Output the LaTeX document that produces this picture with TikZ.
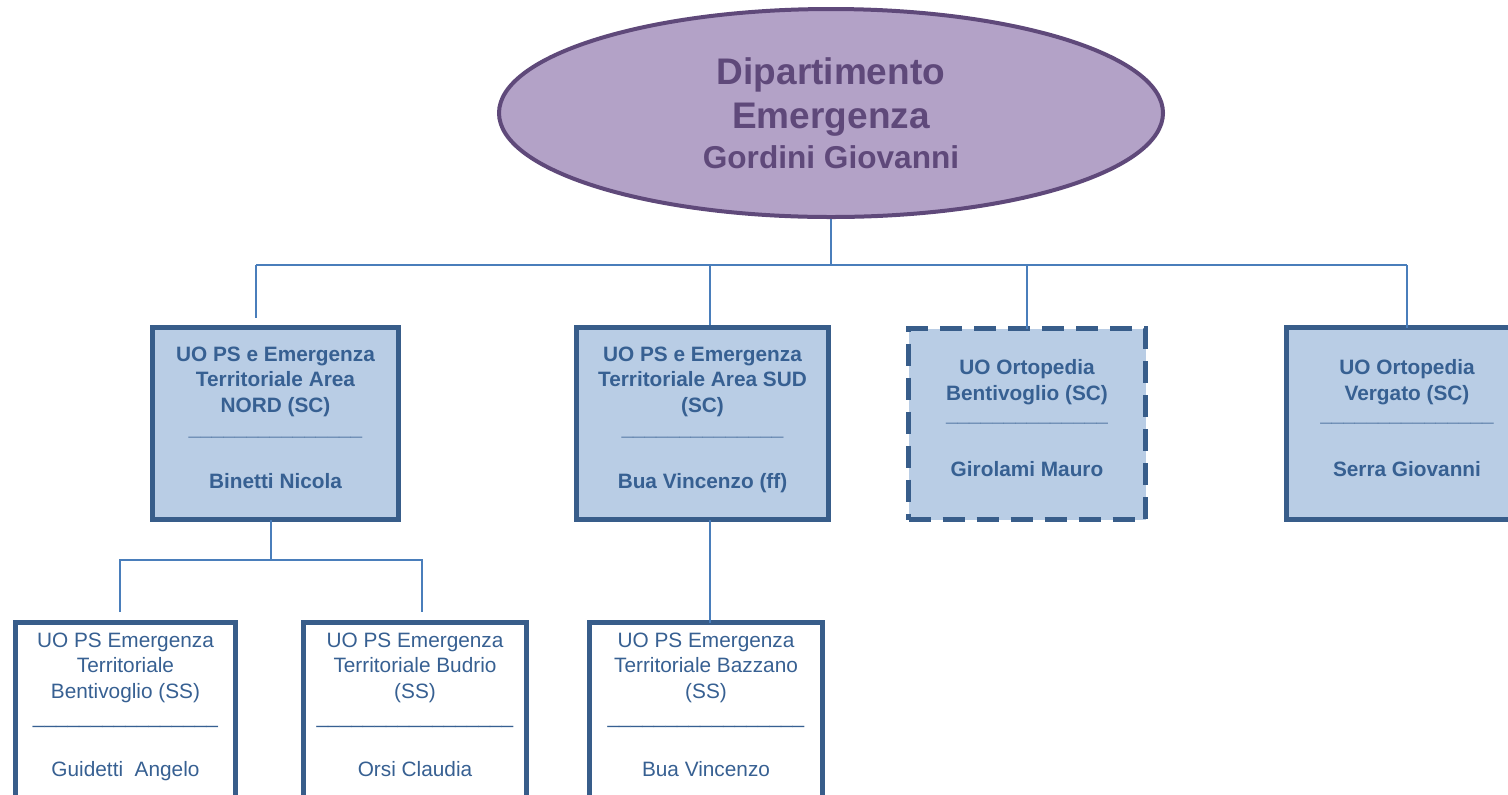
\documentclass[tikz,border=0pt]{standalone}
\usepackage{fontspec}
\setmainfont{Liberation Sans}
\usepackage{tikz}
\usetikzlibrary{positioning,shapes.geometric}

\definecolor{deptfill}{HTML}{B3A2C7}
\definecolor{deptline}{HTML}{5F497A}
\definecolor{unitfill}{HTML}{B9CDE5}
\definecolor{unitline}{HTML}{385D8A}
\definecolor{unittext}{HTML}{376092}
\definecolor{linkcol}{HTML}{4A7EBB}

\newcommand{\sepbar}[1]{\foreach \k in {1,...,#1}{\_}}

\begin{document}
\begin{tikzpicture}[x=0.5pt,y=-0.5pt,
		dept/.style={ellipse,draw=deptline,fill=deptfill,line width=2pt,
			minimum width=332pt,minimum height=104pt,inner sep=0pt,text=deptline,
			align=center,font=\bfseries\fontsize{18.5}{22}\selectfont},
		unit/.style={rectangle,draw=unitline,fill=unitfill,line width=2.5pt,inner sep=0pt,outer sep=0pt},
		unitdash/.style={unit,dash pattern=on 11pt off 6pt},
		sub/.style={rectangle,draw=unitline,fill=white,line width=2.5pt,inner sep=0pt,outer sep=0pt,
			minimum height=110pt},
		unittxt/.style={text=unittext,align=center,inner sep=0pt,
			font=\bfseries\fontsize{10.4}{12.75}\selectfont},
		subtxt/.style={text=unittext,align=center,inner sep=0pt,
			font=\fontsize{10.4}{12.75}\selectfont},
		link/.style={draw=linkcol,line width=1pt}]
	\useasboundingbox (0,0) rectangle (1508,794);
	\clip (0,0) rectangle (1508,794);

	\node[dept] (dip) at (831,113) {Dipartimento\\Emergenza\\[-2pt]{\fontsize{15.8}{20}\selectfont Gordini Giovanni}};

	\node[unit,minimum width=123pt,minimum height=96pt] (nord) at (275.5,423.5) {};
	\node[unit,minimum width=126pt,minimum height=96pt] (sud) at (702.5,423.5) {};
	\node[unitdash,minimum width=118.5pt,minimum height=95.5pt] (ortb) at (1027,424) {};
	\node[unit,minimum width=120.5pt,minimum height=96pt] (ortv) at (1407,423.5) {};

	\node[sub,minimum width=110pt] (bent) at (125.5,732.5) {};
	\node[sub,minimum width=111.5pt] (budr) at (415,732.5) {};
	\node[sub,minimum width=116.5pt] (bazz) at (706,732.5) {};

	\node[unittxt,below=9.5pt of nord.north] (nordtxt)
		{UO PS e Emergenza\\Territoriale Area\\NORD (SC)\\[-1.25pt]\sepbar{15}\\[14pt]Binetti Nicola};
	\node[unittxt,below=9.5pt of sud.north] (sudtxt)
		{UO PS e Emergenza\\Territoriale Area SUD\\(SC)\\[-1.25pt]\sepbar{14}\\[14pt]Bua Vincenzo (ff)};
	\node[unittxt,below=15.5pt of ortb.north] (ortbtxt)
		{UO Ortopedia\\Bentivoglio (SC)\\[-2pt]\sepbar{14}\\[14.75pt]Girolami Mauro};
	\node[unittxt,below=16pt of ortv.north] (ortvtxt)
		{UO Ortopedia\\Vergato (SC)\\[-2pt]\sepbar{15}\\[14.75pt]Serra Giovanni};

	\node[subtxt,below=5pt of bent.north] (benttxt)
		{UO PS Emergenza\\Territoriale\\Bentivoglio (SS)\\\sepbar{16}\\[13.5pt]Guidetti\ \ Angelo};
	\node[subtxt,below=5pt of budr.north] (budrtxt)
		{UO PS Emergenza\\Territoriale Budrio\\(SS)\\\sepbar{17}\\[13.5pt]Orsi Claudia};
	\node[subtxt,below=5pt of bazz.north] (bazztxt)
		{UO PS Emergenza\\Territoriale Bazzano\\(SS)\\\sepbar{17}\\[13.5pt]Bua Vincenzo};

	\coordinate (hub) at (831,265);
	\coordinate (nordtap) at (256,318);
	\coordinate (sudtap) at (710,325);
	\coordinate (nordbus) at (271,560);
	\coordinate (benttap) at (120,612);
	\coordinate (budrtap) at (422,612);

	\path[link]
		(dip.south) edge (hub)
		(nordtap |- hub) edge (ortv.north |- hub)
		(nordtap |- hub) edge (nordtap)
		(sudtap |- hub) edge (sudtap)
		(ortb.north |- hub) edge (ortb.north)
		(ortv.north |- hub) edge (ortv.north)
		(nordbus |- nord.south) edge (nordbus)
		(sudtap |- sud.south) edge (sudtap |- bazz.north);
	\draw[link] (benttap) |- (nordbus) -| (budrtap);
\end{tikzpicture}
\end{document}
